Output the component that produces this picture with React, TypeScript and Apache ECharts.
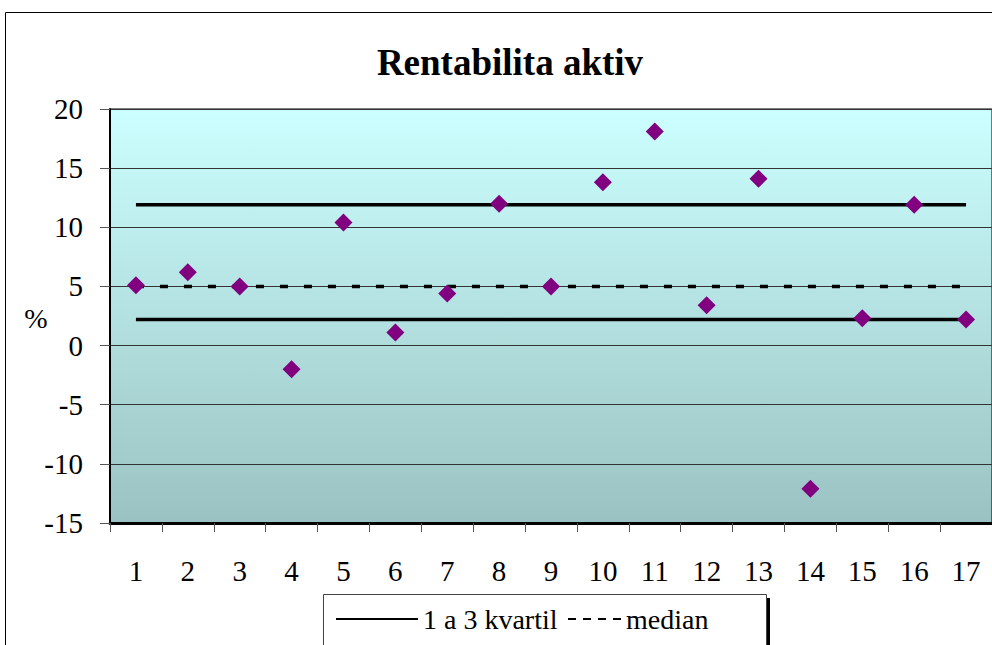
import React, { useEffect, useRef } from "react";
import * as echarts from "echarts";

const categories = ["1", "2", "3", "4", "5", "6", "7", "8", "9", "10", "11", "12", "13", "14", "15", "16", "17"];
const roa = [5.1, 6.2, 5.0, -2.0, 10.4, 1.1, 4.4, 12.0, 5.0, 13.8, 18.1, 3.4, 14.1, -12.1, 2.3, 11.9, 2.2];
const q1Line = [2.2, 2.2, 2.2, 2.2, 2.2, 2.2, 2.2, 2.2, 2.2, 2.2, 2.2, 2.2, 2.2, 2.2, 2.2, 2.2, 2.2];
const q3Line = [11.9, 11.9, 11.9, 11.9, 11.9, 11.9, 11.9, 11.9, 11.9, 11.9, 11.9, 11.9, 11.9, 11.9, 11.9, 11.9, 11.9];
const medianLine = [5.0, 5.0, 5.0, 5.0, 5.0, 5.0, 5.0, 5.0, 5.0, 5.0, 5.0, 5.0, 5.0, 5.0, 5.0, 5.0, 5.0];
const yTicks = { min: -15, max: 20, interval: 5 };

const FONT = "'Liberation Serif', 'Times New Roman', serif";

export default function App() {
  const ref = useRef<HTMLDivElement>(null);
  useEffect(() => {
    if (!ref.current) return;
    const chart = echarts.init(ref.current, null, { renderer: "svg" });
    const txt = { fontFamily: FONT, fontSize: 28, color: "#000", fontWeight: "normal" as const };
    chart.setOption({
      animation: false,
      backgroundColor: "#ffffff",
      textStyle: { fontFamily: FONT, color: "#000" },
      graphic: [
        {
          type: "rect",
          z: 0,
          shape: { x: 5.5, y: 12.5, width: 1000, height: 700 },
          style: { fill: "none", stroke: "#000", lineWidth: 1 },
        },
        {
          type: "text",
          z: 5,
          x: 510,
          y: 62,
          style: {
            text: "Rentabilita aktiv",
            fontFamily: FONT,
            fontSize: 37,
            fontWeight: "bold",
            fill: "#000",
            textAlign: "center",
            textVerticalAlign: "middle",
          },
        },
        {
          type: "text",
          z: 5,
          x: 36,
          y: 318,
          style: {
            text: "%",
            fontFamily: FONT,
            fontSize: 28,
            fill: "#000",
            textAlign: "center",
            textVerticalAlign: "middle",
          },
        },
        {
          type: "rect",
          z: 1,
          shape: { x: 327, y: 598, width: 443, height: 60 },
          style: { fill: "#000" },
        },
        {
          type: "rect",
          z: 2,
          shape: { x: 323.5, y: 594.5, width: 443, height: 60 },
          style: { fill: "#fff", stroke: "#444", lineWidth: 1 },
        },
      ],
      legend: [
        {
          z: 10,
          left: 335,
          top: 605,
          padding: 0,
          itemWidth: 82,
          itemHeight: 14,
          itemGap: 0,
          itemStyle: { opacity: 0 },
          data: ["1 a 3 kvartil"],
          textStyle: txt,
        },
        {
          z: 10,
          left: 567,
          top: 605,
          padding: 0,
          itemWidth: 53,
          itemHeight: 14,
          itemGap: 0,
          itemStyle: { opacity: 0 },
          data: [{ name: "median", lineStyle: { type: [8, 7] } }],
          textStyle: txt,
        },
      ],
      grid: {
        left: 110,
        top: 109,
        right: -2,
        bottom: 122,
        containLabel: false,
        show: true,
        borderColor: "#000",
        borderWidth: 1,
        backgroundColor: new echarts.graphic.LinearGradient(0, 0, 0, 1, [
          { offset: 0, color: "#CCFFFF" },
          { offset: 1, color: "#9BC2C2" },
        ]),
      },
      xAxis: {
        type: "category",
        data: categories,
        boundaryGap: true,
        axisLine: { show: true, onZero: false, lineStyle: { color: "#000", width: 3 } },
        axisTick: { show: true, length: 9, lineStyle: { color: "#555", width: 1 } },
        axisLabel: { fontFamily: FONT, fontSize: 29, color: "#000", margin: 33 },
        splitLine: { show: false },
      },
      yAxis: {
        type: "value",
        min: yTicks.min,
        max: yTicks.max,
        interval: yTicks.interval,
        axisLine: { show: true, lineStyle: { color: "#000", width: 2 } },
        axisTick: { show: true, length: 10, lineStyle: { color: "#555", width: 1 } },
        axisLabel: { fontFamily: FONT, fontSize: 29, color: "#000", margin: 27 },
        splitLine: { show: true, lineStyle: { color: "#333", width: 1 } },
      },
      series: [
        {
          name: "1 a 3 kvartil",
          type: "line",
          data: q3Line,
          symbol: "none",
          z: 2,
          lineStyle: { color: "#000", width: 3.5, type: "solid" },
          itemStyle: { color: "#000" },
        },
        {
          name: "1 a 3 kvartil",
          type: "line",
          data: q1Line,
          symbol: "none",
          z: 2,
          lineStyle: { color: "#000", width: 3.5, type: "solid" },
          itemStyle: { color: "#000" },
        },
        {
          name: "median",
          type: "line",
          data: medianLine,
          symbol: "none",
          z: 2,
          lineStyle: { color: "#000", width: 3.5, type: [8, 16] },
          itemStyle: { color: "#000" },
        },
        {
          name: "ROA",
          type: "scatter",
          data: roa,
          symbol: "diamond",
          symbolSize: [18, 18],
          z: 4,
          itemStyle: { color: "#800080", opacity: 1 },
        },
      ],
    });
    return () => chart.dispose();
  }, []);
  return (
    <div
      ref={ref}
      style={{ position: "absolute", left: 0, top: 0, width: 992, height: 645 }}
    />
  );
}
